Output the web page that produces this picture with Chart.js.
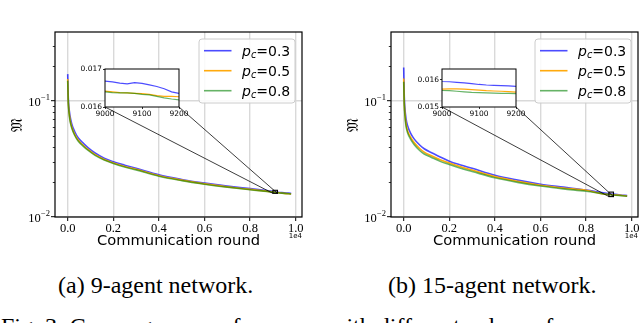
<!DOCTYPE html>
<html>
<head>
<meta charset="utf-8">
<script src="https://cdn.jsdelivr.net/npm/chart.js@4.4.1/dist/chart.umd.min.js"></script>
<style>
html, body { margin: 0; padding: 0; background: #fff; width: 640px; height: 323px; overflow: hidden; }
#wrap { position: relative; width: 640px; height: 323px; overflow: hidden; }
canvas { position: absolute; }
.cap { position: absolute; font-family: "Liberation Serif", "Times New Roman", serif; font-size: 24px; line-height: 24px; white-space: nowrap; color: #000; }
</style>
</head>
<body>
<div id="wrap">
  <canvas id="mainA" width="320" height="262" style="left:0;top:0"></canvas>
  <canvas id="mainB" width="320" height="262" style="left:320px;top:0"></canvas>
  <canvas id="insetA" width="115" height="62" style="left:75px;top:60px"></canvas>
  <canvas id="insetB" width="115" height="62" style="left:412px;top:60px"></canvas>
  <div class="cap" style="left:58px;top:273px">(a) 9-agent network.</div>
  <div class="cap" style="left:388px;top:273px">(b) 15-agent network.</div>
  <div class="cap" style="left:1px;top:314px">Fig. 3: Convergence performance with different values of <i>p<sub>c</sub></i>.</div>
</div>
<script>
// communication rounds (dense between 9000 and 9200 for the zoomed inset)
const rounds = [0, 25, 50, 100, 175, 300, 465, 700, 900, 1200, 1600, 2000, 2500, 3000, 4000, 5000, 6000, 7000, 8000,
    9000, 9020, 9040, 9060, 9080, 9100, 9120, 9140, 9160, 9180, 9200, 9500, 9800];

const pcValues = [0.3, 0.5, 0.8];
const seriesColors = ['rgba(0,0,255,0.7)', 'rgba(255,165,0,0.95)', 'rgba(0,128,0,0.6)'];

// (a) 9-agent network
const net9_pc03 = [0.171, 0.108, 0.090, 0.075, 0.064, 0.055, 0.048, 0.0430, 0.0395, 0.0357, 0.0322, 0.0300, 0.0280, 0.0263, 0.0231, 0.0211, 0.0196, 0.0185, 0.0176,
    0.01668, 0.01666, 0.01663, 0.01661, 0.01664, 0.01662, 0.01658, 0.01654, 0.01648, 0.01640, 0.01636, 0.0162, 0.0160];
const net9_pc05 = [0.155, 0.100, 0.084, 0.070, 0.060, 0.052, 0.046, 0.0412, 0.0381, 0.0345, 0.0314, 0.0293, 0.0273, 0.0258, 0.0227, 0.0208, 0.0193, 0.0182, 0.0173,
    0.01642, 0.01640, 0.01638, 0.01637, 0.01636, 0.01635, 0.01633, 0.01630, 0.01628, 0.01628, 0.01627, 0.0160, 0.0158];
const net9_pc08 = [0.150, 0.098, 0.082, 0.068, 0.059, 0.051, 0.045, 0.0405, 0.0375, 0.0340, 0.0310, 0.0290, 0.0270, 0.0255, 0.0225, 0.0206, 0.0192, 0.0181, 0.0172,
    0.01640, 0.01638, 0.01637, 0.01637, 0.01636, 0.01633, 0.01632, 0.01628, 0.01624, 0.01621, 0.01619, 0.0160, 0.0158];

// (b) 15-agent network
const net15_pc03 = [0.195, 0.110, 0.089, 0.071, 0.061, 0.053, 0.047, 0.0418, 0.0388, 0.0360, 0.0330, 0.0303, 0.0281, 0.0263, 0.0229, 0.0208, 0.0192, 0.0181, 0.0171,
    0.01594, 0.01593, 0.01591, 0.01589, 0.01586, 0.01583, 0.01581, 0.01580, 0.01579, 0.01578, 0.01576, 0.0155, 0.0153];
const net15_pc05 = [0.157, 0.097, 0.080, 0.064, 0.055, 0.049, 0.0437, 0.0390, 0.0363, 0.0339, 0.0312, 0.0293, 0.0271, 0.0254, 0.0223, 0.0203, 0.0188, 0.0178, 0.0170,
    0.01566, 0.01567, 0.01567, 0.01566, 0.01564, 0.01562, 0.01560, 0.01559, 0.01558, 0.01557, 0.01555, 0.0154, 0.0152];
const net15_pc08 = [0.147, 0.092, 0.076, 0.061, 0.053, 0.047, 0.042, 0.0375, 0.0350, 0.0328, 0.0302, 0.0284, 0.0263, 0.0247, 0.0218, 0.0199, 0.0185, 0.0175, 0.0167,
    0.01561, 0.01560, 0.01558, 0.01556, 0.01554, 0.01553, 0.01552, 0.01551, 0.01550, 0.01550, 0.01549, 0.0153, 0.0151];

const xRange = [-557, 10276];
const yRange = [0.01, 0.395];
const xTickValues = [0, 2000, 4000, 6000, 8000, 10000];
const yDecades = [0.01, 0.1];

const insetXRange = [9000, 9200];
const insetXTicks = [9000, 9100, 9200];
const insetYRangeA = [0.016, 0.017];
const insetYTicksA = [0.016, 0.017];
const insetYRangeB = [0.015, 0.0164];
const insetYTicksB = [0.015, 0.016];

const GRID = '#d9d9d9';

function isMajor(v) {
    const l = Math.log10(v);
    return Math.abs(l - Math.round(l)) < 1e-9;
}

function logTicks() {
    // decades plus 2..9 minor marks up to the axis max
    const out = [];
    yDecades.forEach(d => {
        for (let m = 1; m <= 9; m++) {
            const v = d * m;
            if (v <= yRange[1]) out.push({ value: v, major: m === 1 });
        }
    });
    return out;
}

function makeDatasets(series, width, smooth) {
    return series.map((vals, i) => ({
        label: 'p_c=' + pcValues[i],
        data: rounds.map((r, k) => ({ x: r, y: vals[k] })),
        borderColor: seriesColors[i],
        borderWidth: width,
        pointRadius: 0,
        fill: false,
        order: 2 - i,
        tension: 0,
        cubicInterpolationMode: smooth ? 'monotone' : 'default'
    }));
}

const insetFrame = {
    id: 'insetFrame',
    beforeDraw(chart) {
        const a = chart.chartArea, ctx = chart.ctx;
        ctx.save();
        ctx.fillStyle = '#fff';
        ctx.fillRect(a.left, a.top, a.right - a.left, a.bottom - a.top);
        ctx.restore();
    },
    afterDraw(chart) {
        const a = chart.chartArea, ctx = chart.ctx;
        ctx.save();
        ctx.strokeStyle = '#000';
        ctx.lineWidth = 1;
        ctx.strokeRect(a.left, a.top, a.right - a.left, a.bottom - a.top);
        ctx.restore();
    }
};

function makeInset(id, series, yR, yTicks) {
    return new Chart(document.getElementById(id), {
        type: 'line',
        data: { datasets: makeDatasets(series, 1.2, false) },
        options: {
            responsive: false,
            animation: false,
            events: [],
            layout: { padding: { top: 9, right: 11, left: 0, bottom: 0 } },
            plugins: { legend: { display: false }, tooltip: { enabled: false } },
            scales: {
                x: {
                    type: 'linear', min: insetXRange[0], max: insetXRange[1], bounds: 'data',
                    afterBuildTicks: s => { s.ticks = insetXTicks.map(v => ({ value: v })); },
                    afterFit: s => { s.height = 15; },
                    grid: { drawOnChartArea: false, tickLength: 2, tickColor: '#000', tickWidth: 0.8 },
                    border: { display: false },
                    ticks: { font: { family: 'DejaVu Sans', size: 7.5 }, color: '#000', padding: 1, maxRotation: 0, autoSkip: false, callback: v => String(v) }
                },
                y: {
                    type: 'linear', min: yR[0], max: yR[1], bounds: 'data',
                    afterBuildTicks: s => { s.ticks = yTicks.map(v => ({ value: v })); },
                    afterFit: s => { s.width = 30; },
                    grid: { drawOnChartArea: false, tickLength: 2, tickColor: '#000', tickWidth: 0.8 },
                    border: { display: false },
                    ticks: { font: { family: 'DejaVu Sans', size: 7.5 }, color: '#000', padding: 1, autoSkip: false, callback: v => v.toFixed(3) }
                }
            }
        },
        plugins: [insetFrame]
    });
}

function figurePlugin(inset, dx, dy, insetYR) {
    return {
        id: 'figure',
        afterDraw(chart) {
            const ctx = chart.ctx, a = chart.chartArea;
            const xs = chart.scales.x, ys = chart.scales.y;
            ctx.save();

            // minor log ticks
            ctx.strokeStyle = '#000';
            ctx.lineWidth = 0.8;
            ys.ticks.forEach(t => {
                if (isMajor(t.value)) return;
                const py = Math.round(ys.getPixelForValue(t.value)) + 0.5;
                ctx.beginPath(); ctx.moveTo(a.left, py); ctx.lineTo(a.left - 2.2, py); ctx.stroke();
            });

            // decade labels 10^n
            ctx.fillStyle = '#000';
            ctx.textAlign = 'right';
            ctx.textBaseline = 'alphabetic';
            ys.ticks.forEach(t => {
                if (!isMajor(t.value)) return;
                const py = ys.getPixelForValue(t.value);
                const e = Math.round(Math.log10(t.value));
                const sup = (e < 0 ? '\u2212' : '') + Math.abs(e);
                ctx.font = '8.5px "Liberation Serif"';
                const sw = ctx.measureText(sup).width;
                ctx.fillText(sup, a.left - 5, py - 1.5);
                ctx.font = '12.5px "Liberation Serif"';
                ctx.fillText('10', a.left - 5 - sw - 0.3, py + 4.5);
            });

            // offset text
            ctx.font = '7px "DejaVu Sans"';
            ctx.fillText('1e4', a.right, a.bottom + 21);

            // y label
            ctx.save();
            ctx.translate(a.left - 37, (a.top + a.bottom) / 2);
            ctx.rotate(-Math.PI / 2);
            ctx.textAlign = 'center';
            ctx.textBaseline = 'middle';
            ctx.font = '15px "DejaVu Serif", "DejaVu Sans", serif';
            ctx.fillText('\u{1D510}', 0, 0);
            ctx.restore();

            // frame
            ctx.strokeStyle = '#000';
            ctx.lineWidth = 1.2;
            ctx.strokeRect(a.left, a.top, a.right - a.left, a.bottom - a.top);

            // zoom rectangle + connectors
            const rx1 = xs.getPixelForValue(insetXRange[0]), rx2 = xs.getPixelForValue(insetXRange[1]);
            const ry1 = ys.getPixelForValue(insetYR[1]), ry2 = ys.getPixelForValue(insetYR[0]);
            ctx.lineWidth = 1.1;
            ctx.strokeRect(rx1, ry1, rx2 - rx1, ry2 - ry1);
            const ia = inset.chartArea;
            ctx.strokeStyle = 'rgba(0,0,0,0.85)';
            ctx.lineWidth = 0.9;
            ctx.beginPath();
            ctx.moveTo(ia.left + dx, ia.bottom + dy); ctx.lineTo(rx1, ry2);
            ctx.moveTo(ia.right + dx, ia.bottom + dy); ctx.lineTo(rx2, ry2);
            ctx.stroke();

            // legend
            const w = 96, h = 64, x0 = a.right - 7 - w, y0 = a.top + 7;
            ctx.beginPath();
            ctx.roundRect(x0, y0, w, h, 3);
            ctx.fillStyle = 'rgba(255,255,255,0.85)';
            ctx.fill();
            ctx.strokeStyle = '#cccccc';
            ctx.lineWidth = 1;
            ctx.stroke();
            ctx.textAlign = 'left';
            chart.data.datasets.forEach((ds, i) => {
                const ly = y0 + 11.7 + i * 20;
                ctx.strokeStyle = ds.borderColor;
                ctx.lineWidth = 1.6;
                ctx.beginPath(); ctx.moveTo(x0 + 5, ly); ctx.lineTo(x0 + 32.5, ly); ctx.stroke();
                let tx = x0 + 43;
                const base = ly + 5;
                ctx.fillStyle = '#000';
                ctx.font = 'italic 14px "DejaVu Sans"';
                ctx.fillText('p', tx, base); tx += ctx.measureText('p').width;
                ctx.font = 'italic 9.8px "DejaVu Sans"';
                ctx.fillText('c', tx, base + 2.5); tx += ctx.measureText('c').width;
                ctx.font = '14px "DejaVu Sans"';
                ctx.fillText('=' + pcValues[i], tx, base);
            });
            ctx.restore();
        }
    };
}

function makeMain(id, series, yAxisWidth, rightPad, inset, dx, dy, insetYR) {
    return new Chart(document.getElementById(id), {
        type: 'line',
        data: { datasets: makeDatasets(series, 1.6, true) },
        options: {
            responsive: false,
            animation: false,
            events: [],
            layout: { padding: { top: 32, right: rightPad, left: 0, bottom: 0 } },
            plugins: { legend: { display: false }, tooltip: { enabled: false } },
            scales: {
                x: {
                    type: 'linear', min: xRange[0], max: xRange[1], bounds: 'data',
                    afterBuildTicks: s => { s.ticks = xTickValues.map(v => ({ value: v })); },
                    afterFit: s => { s.height = 45; },
                    grid: { color: GRID, lineWidth: 1.4, tickColor: '#000', tickLength: 4, tickWidth: 1 },
                    border: { display: false },
                    ticks: { font: { family: 'Liberation Serif', size: 12.5 }, color: '#000', padding: 0, maxRotation: 0, autoSkip: false,
                        callback: v => (v / 10000).toFixed(1) },
                    title: { display: true, text: 'Communication round', color: '#000',
                        font: { family: 'DejaVu Sans', size: 14.7 }, padding: { top: 0, bottom: 12 } }
                },
                y: {
                    type: 'logarithmic', min: yRange[0], max: yRange[1], bounds: 'data',
                    afterBuildTicks: s => { s.ticks = logTicks(); },
                    afterFit: s => { s.width = yAxisWidth; },
                    grid: {
                        color: c => (c.tick && isMajor(c.tick.value)) ? GRID : 'rgba(0,0,0,0)',
                        tickColor: c => (c.tick && isMajor(c.tick.value)) ? '#000' : 'rgba(0,0,0,0)',
                        lineWidth: 1.4, tickLength: 4, tickWidth: 1
                    },
                    border: { display: false },
                    ticks: { autoSkip: false, callback: () => '' }
                }
            }
        },
        plugins: [figurePlugin(inset, dx, dy, insetYR)]
    });
}

const insetA = makeInset('insetA', [net9_pc03, net9_pc05, net9_pc08], insetYRangeA, insetYTicksA);
const insetB = makeInset('insetB', [net15_pc03, net15_pc05, net15_pc08], insetYRangeB, insetYTicksB);
makeMain('mainA', [net9_pc03, net9_pc05, net9_pc08], 55, 18, insetA, 75, 60, insetYRangeA);
makeMain('mainB', [net15_pc03, net15_pc05, net15_pc08], 71, 2, insetB, 92, 60, insetYRangeB);
</script>
</body>
</html>
